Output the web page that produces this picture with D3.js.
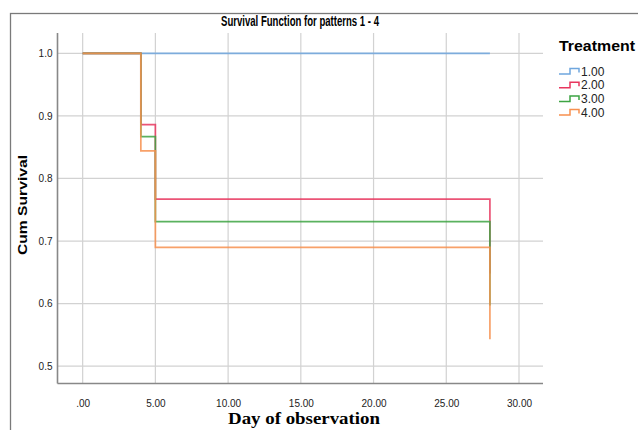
<!DOCTYPE html>
<html lang="en">
  <head>
    <meta charset="UTF-8" />
    <title>Survival Function</title>
    <style type="text/css">
      body { margin: 0; background: #fff; }
      svg { display: block; }
    </style>
    <script src="https://d3js.org/d3.v7.min.js"></script>
  </head>
  <body>
    <div class="chart"></div>
    <script type="text/javascript">
      // data
      var groups = ['1.00', '2.00', '3.00', '4.00']
      var colors = ['#6fa6de', '#e8365e', '#3da443', '#f7904f']
      var times1 = [0, 28]
      var surv1 = [1.0, 1.0]
      var times2 = [0, 4, 5, 28]
      var surv2 = [1.0, 0.886, 0.767, 0.648]
      var times3 = [0, 4, 5, 28]
      var surv3 = [1.0, 0.867, 0.731, 0.597]
      var times4 = [0, 4, 5, 28]
      var surv4 = [1.0, 0.844, 0.69, 0.543]
      var xTicks = [0, 5, 10, 15, 20, 25, 30]
      var yTicks = [0.5, 0.6, 0.7, 0.8, 0.9, 1.0]

      var seriesTimes = [times1, times2, times3, times4]
      var seriesSurv = [surv1, surv2, surv3, surv4]

      var width = 638
      var height = 430
      // plot box (note: "top" is a reserved window prop, so use plot*)
      var plotLeft = 57.5
      var plotRight = 543
      var plotTop = 33
      var plotBottom = 383.5

      var svg = d3.select('.chart').append('svg')
        .attr('width', width)
        .attr('height', height)
        .style('background-color', '#fff')

      // outer frame
      svg.append('rect')
        .attr('x', 10.5).attr('y', 13.5)
        .attr('width', 700).attr('height', 500)
        .attr('fill', 'none')
        .attr('stroke', '#7a7a7a')
        .attr('stroke-width', 1.3)

      var x = d3.scaleLinear().domain([-1.73, 31.65]).range([plotLeft, plotRight])
      var y = d3.scaleLinear().domain([0.4723, 1.0325]).range([plotBottom, plotTop])

      // grid
      var grid = svg.append('g').attr('stroke', '#d2d2d2').attr('stroke-width', 1.2)
      grid.selectAll('line.h').data(yTicks).enter().append('line')
        .attr('x1', plotLeft).attr('x2', plotRight)
        .attr('y1', d => y(d)).attr('y2', d => y(d))
      grid.selectAll('line.v').data(xTicks).enter().append('line')
        .attr('x1', d => x(d)).attr('x2', d => x(d))
        .attr('y1', plotTop).attr('y2', plotBottom)

      // axes
      var xAxis = d3.axisBottom(x).tickValues(xTicks).tickSize(0).tickPadding(16)
        .tickFormat(d => d === 0 ? '.00' : d3.format('.2f')(d))
      var gx = svg.append('g').attr('transform', 'translate(0,' + plotBottom + ')').call(xAxis)
      gx.select('.domain').attr('stroke', '#888').attr('stroke-width', 1.6)
        .attr('d', 'M' + plotLeft + ',0H' + plotRight)
      gx.selectAll('text').attr('font-family', 'Liberation Sans Narrow, Arial Narrow, Liberation Sans, sans-serif')
        .attr('font-size', 10).attr('fill', '#222')

      var yAxis = d3.axisLeft(y).tickValues(yTicks).tickSize(0).tickPadding(5).tickFormat(d3.format('.1f'))
      var gy = svg.append('g').attr('transform', 'translate(' + plotLeft + ',0)').call(yAxis)
      gy.select('.domain').attr('stroke', '#888').attr('stroke-width', 1.6)
        .attr('d', 'M0,' + plotTop + 'V' + plotBottom)
      gy.selectAll('text').attr('font-family', 'Liberation Sans Narrow, Arial Narrow, Liberation Sans, sans-serif')
        .attr('font-size', 10).attr('fill', '#222')

      // survival step lines
      var line = d3.line()
        .x(d => x(d[0]))
        .y(d => y(d[1]))
        .curve(d3.curveStepAfter)

      svg.append('g').selectAll('path')
        .data(groups)
        .enter()
        .append('path')
        .attr('fill', 'none')
        .attr('stroke', (d, i) => colors[i])
        .attr('stroke-width', 1.7)
        .attr('stroke-opacity', 0.85)
        .attr('d', (d, i) => line(seriesTimes[i].map((t, j) => [t, seriesSurv[i][j]])))

      // titles
      svg.append('text')
        .attr('x', 300).attr('y', 26)
        .attr('text-anchor', 'middle')
        .attr('font-family', 'Liberation Sans Narrow, Arial Narrow, Liberation Sans, sans-serif')
        .attr('font-weight', 'bold')
        .attr('font-size', 14)
        .attr('textLength', 158).attr('lengthAdjust', 'spacingAndGlyphs')
        .text('Survival Function for patterns 1 - 4')

      svg.append('text')
        .attr('transform', 'translate(27,205) rotate(-90)')
        .attr('text-anchor', 'middle')
        .attr('font-family', 'Liberation Sans, Arial, sans-serif')
        .attr('font-weight', 'bold')
        .attr('font-size', 13)
        .attr('textLength', 100).attr('lengthAdjust', 'spacingAndGlyphs')
        .text('Cum Survival')

      svg.append('text')
        .attr('x', 304).attr('y', 424)
        .attr('text-anchor', 'middle')
        .attr('font-family', 'Liberation Serif, Times New Roman, serif')
        .attr('font-weight', 'bold')
        .attr('font-size', 17)
        .attr('textLength', 152).attr('lengthAdjust', 'spacingAndGlyphs')
        .text('Day of observation')

      // legend
      var legend = svg.append('g')
      legend.append('text')
        .attr('x', 559).attr('y', 51)
        .attr('font-family', 'Liberation Sans, Arial, sans-serif')
        .attr('font-weight', 'bold')
        .attr('font-size', 15)
        .attr('textLength', 76).attr('lengthAdjust', 'spacingAndGlyphs')
        .text('Treatment')

      var item = legend.selectAll('g.item').data(groups).enter().append('g')
        .attr('transform', (d, i) => 'translate(559,' + (71.5 + i * 13.7) + ')')
      item.append('path')
        .attr('fill', 'none')
        .attr('stroke', (d, i) => colors[i])
        .attr('stroke-width', 1.5)
        .attr('d', 'M0,2.5H11V-3H20V1')
      item.append('text')
        .attr('x', 22).attr('y', 4)
        .attr('font-family', 'Liberation Sans Narrow, Arial Narrow, Liberation Sans, sans-serif')
        .attr('font-size', 12)
        .attr('fill', '#222')
        .text(d => d)
    </script>
  </body>
</html>
